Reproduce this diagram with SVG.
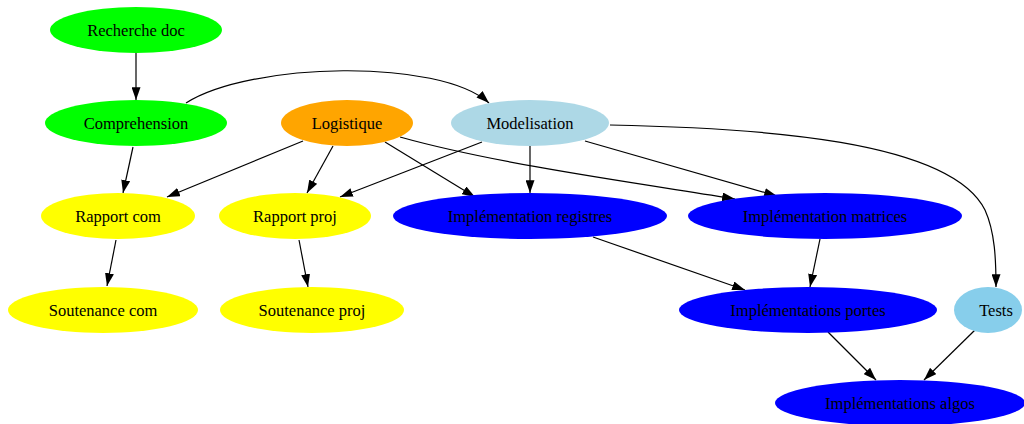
<svg xmlns="http://www.w3.org/2000/svg" width="1024" height="424" viewBox="0 0 1024 424">
<style>
text{font-family:"Liberation Serif","Times New Roman",serif;font-size:16.5px;fill:#000;text-anchor:middle;dominant-baseline:central}
.e{fill:none;stroke:#000;stroke-width:1.2;marker-end:url(#ah)}
.green{fill:#00ff00}.orange{fill:#ffa500}.lb{fill:#add8e6}.yel{fill:#ffff00}.blue{fill:#0000ff}.sky{fill:#87ceeb}
</style>
<defs>
<marker id="ah" viewBox="0 0 10 7" refX="10" refY="3.5" markerWidth="13" markerHeight="9" markerUnits="userSpaceOnUse" orient="auto">
<path d="M0,0 L10,3.5 L0,7 z" fill="#000"/>
</marker>
</defs>
<rect width="1024" height="424" fill="#fff"/>
<g id="edges">
<path class="e" d="M136,53 L136,100"/>
<path class="e" d="M186,103 C250,62 440,58 489,103"/>
<path class="e" d="M133,147 L123,193"/>
<path class="e" d="M303,141 L167,197"/>
<path class="e" d="M333,146 L307,193"/>
<path class="e" d="M482,142 L340,197"/>
<path class="e" d="M385,142 L475,197"/>
<path class="e" d="M400,137 C500,165 650,185 735,199"/>
<path class="e" d="M530,146 L530,193"/>
<path class="e" d="M585,141 L777,196"/>
<path class="e" d="M610,125 C760,128 950,140 985,210 C995,232 996,260 996,287"/>
<path class="e" d="M116,240 L107,286"/>
<path class="e" d="M299,240 L308,287"/>
<path class="e" d="M593,237 L745,290"/>
<path class="e" d="M820,239 L810,287"/>
<path class="e" d="M828,332 L876,380"/>
<path class="e" d="M975,330 L924,380"/>
</g>
<g id="recherche"><ellipse class="green" cx="136" cy="30" rx="86" ry="23"/><text x="136" y="30">Recherche doc</text></g>
<g id="comprehension"><ellipse class="green" cx="136" cy="123" rx="91" ry="23"/><text x="136" y="123">Comprehension</text></g>
<g id="logistique"><ellipse class="orange" cx="347" cy="123" rx="66" ry="23"/><text x="347" y="123">Logistique</text></g>
<g id="modelisation"><ellipse class="lb" cx="530" cy="123" rx="79" ry="23"/><text x="530" y="123">Modelisation</text></g>
<g id="rapportcom"><ellipse class="yel" cx="118" cy="216" rx="77" ry="23"/><text x="118" y="216">Rapport com</text></g>
<g id="rapportproj"><ellipse class="yel" cx="295" cy="216" rx="76" ry="23"/><text x="295" y="216">Rapport proj</text></g>
<g id="implregistres"><ellipse class="blue" cx="530" cy="216" rx="137" ry="23"/><text x="530" y="216">Implémentation registres</text></g>
<g id="implmatrices"><ellipse class="blue" cx="825" cy="216" rx="137" ry="23"/><text x="825" y="216">Implémentation matrices</text></g>
<g id="soutcom"><ellipse class="yel" cx="103" cy="310" rx="95" ry="23"/><text x="103" y="310">Soutenance com</text></g>
<g id="soutproj"><ellipse class="yel" cx="312" cy="310" rx="92" ry="23"/><text x="312" y="310">Soutenance proj</text></g>
<g id="implportes"><ellipse class="blue" cx="808" cy="310" rx="129" ry="23"/><text x="808" y="310">Implémentations portes</text></g>
<g id="tests"><ellipse class="sky" cx="988" cy="310" rx="34" ry="23"/><text x="996" y="310">Tests</text></g>
<g id="implalgos"><ellipse class="blue" cx="900" cy="403" rx="125" ry="23"/><text x="900" y="403">Implémentations algos</text></g>
</svg>
